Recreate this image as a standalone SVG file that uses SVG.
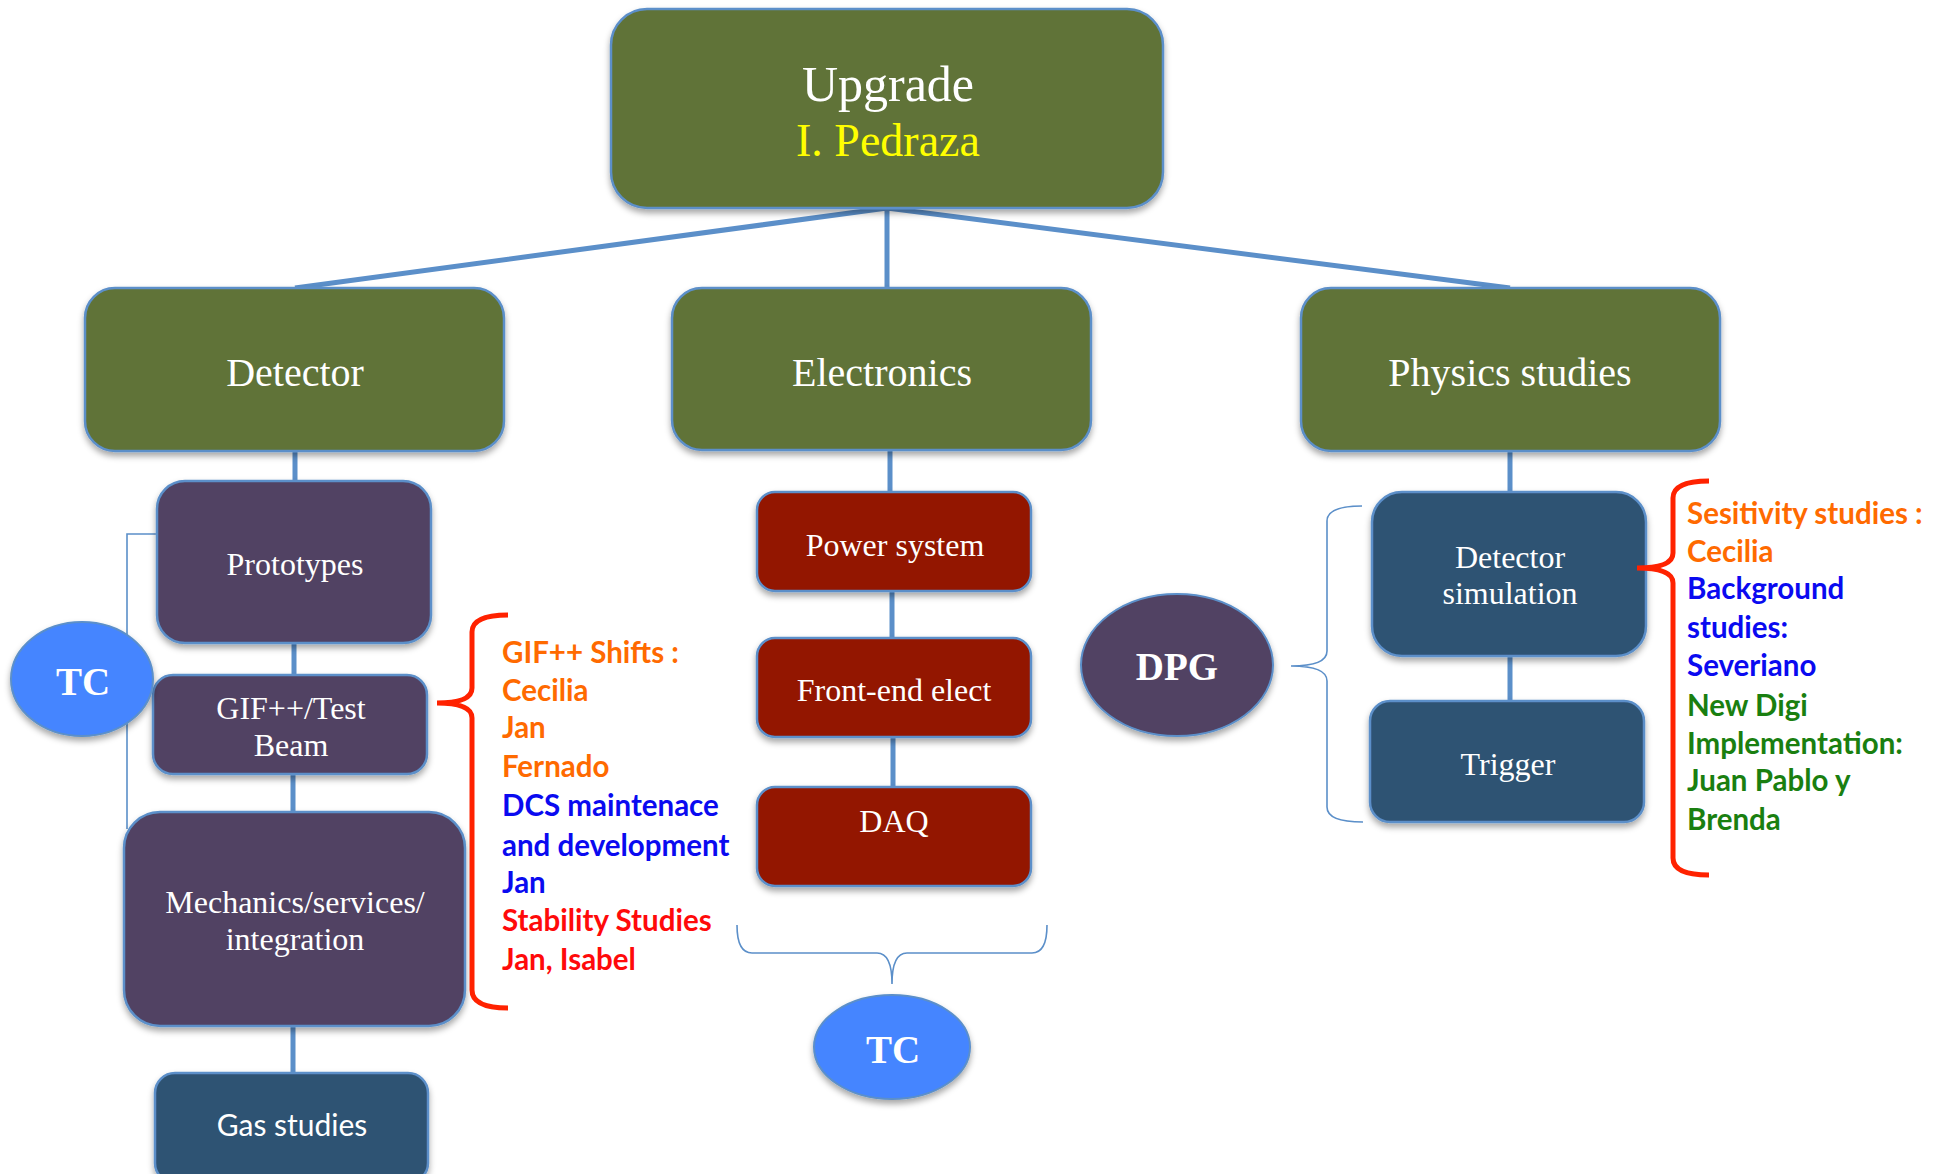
<svg xmlns="http://www.w3.org/2000/svg" width="1946" height="1174" viewBox="0 0 1946 1174">
  <defs>
    <filter id="shadow" x="-10%" y="-10%" width="120%" height="130%">
      <feDropShadow dx="0" dy="4" stdDeviation="3" flood-color="#000" flood-opacity="0.35"/>
    </filter>
    <style>
      .box { stroke: #5B8FC9; stroke-width: 2.5; filter: url(#shadow); }
      .olive { fill: #617337; }
      .purple { fill: #514263; }
      .red { fill: #931200; }
      .navy { fill: #2F5273; }
      .oval { fill: #4485FF; stroke: #5B8FC9; stroke-width: 2; filter: url(#shadow); }
      .serif { font-family: "Liberation Serif", "Times New Roman", serif; fill: #FFFFFF; text-anchor: middle; }
      .sans { font-family: Lato, "Liberation Sans", sans-serif; }
      .big { font-size: 40px; }
      .mid { font-size: 32px; }
      .bold { font-weight: bold; font-size: 39px; }
      .conn { stroke: #5B8FC9; stroke-width: 5; fill: none; }
      .thin { stroke: #5B8FC9; stroke-width: 1.6; fill: none; }
      .brace { stroke: #FF2200; stroke-width: 5; fill: none; stroke-linecap: butt; }
      .note { font-family: Lato, "Liberation Sans", sans-serif; font-weight: bold; font-size: 29.5px; }
      .orange { fill: #FF6A00; }
      .blue { fill: #0A0AF0; }
      .crimson { fill: #FF0A0A; }
      .green { fill: #1A7F10; }
    </style>
  </defs>

  <rect width="1946" height="1174" fill="#FFFFFF"/>

  <!-- connectors -->
  <g id="connectors">
    <path class="conn" d="M887,208 L295,288 M887,208 L887,288 M887,208 L1510,288"/>
    <path class="conn" d="M295,451 V481 M294,643 V675 M293,774 V812 M293,1026 V1073"/>
    <path class="conn" d="M890,450 V492 M892,591 V638 M893,737 V787"/>
    <path class="conn" d="M1510,451 V492 M1510,656 V701"/>
    <!-- TC link on the detector side -->
    <path class="thin" d="M97,686 H127 M157,534 H127 V829"/>
    <!-- brace under the electronics column -->
    <path class="thin" d="M737,925 Q737,953 752,953 H877 Q892,953 892,984 Q892,953 907,953 H1032 Q1047,953 1047,925"/>
    <!-- brace joining DPG to the simulation boxes -->
    <path class="thin" d="M1362,506 Q1327,506 1327,521 V651 Q1327,666 1291,666 Q1327,666 1327,681 V807 Q1327,822 1363,822"/>
  </g>

  <!-- top node -->
  <g id="upgrade">
    <rect class="box olive" x="611" y="9" width="552" height="199" rx="36"/>
    <text class="serif" x="888" y="101" font-size="50">Upgrade</text>
    <text class="serif" x="888" y="156" font-size="46" style="fill:#FFFF00">I. Pedraza</text>
  </g>

  <!-- detector column -->
  <g id="detector">
    <rect class="box olive" x="85" y="288" width="419" height="163" rx="30"/>
    <text class="serif big" x="295" y="386">Detector</text>
  </g>
  <g id="prototypes">
    <rect class="box purple" x="157" y="481" width="274" height="162" rx="28"/>
    <text class="serif mid" x="295" y="575">Prototypes</text>
  </g>
  <g id="gif">
    <rect class="box purple" x="153" y="675" width="274" height="99" rx="20"/>
    <text class="serif mid" x="291" y="719">GIF++/Test</text>
    <text class="serif mid" x="291" y="756">Beam</text>
  </g>
  <g id="mechanics">
    <rect class="box purple" x="124" y="812" width="341" height="214" rx="36"/>
    <text class="serif mid" x="295" y="913">Mechanics/services/</text>
    <text class="serif mid" x="295" y="950">integration</text>
  </g>
  <g id="gas">
    <rect class="box navy" x="155" y="1073" width="273" height="110" rx="20"/>
    <text class="sans" x="292" y="1136" font-size="30" fill="#FFFFFF" text-anchor="middle">Gas studies</text>
  </g>
  <g id="tc-detector">
    <ellipse class="oval" cx="82" cy="679" rx="71" ry="57"/>
    <text class="serif bold" x="83" y="695">TC</text>
  </g>
  <g id="detector-people">
    <path class="brace" d="M508,615 Q472,615 472,632 V688 Q472,703 437,703 Q472,703 472,718 V990 Q472,1008 508,1008"/>
    <text class="note orange" x="502" y="663">GIF++ Shifts :</text>
    <text class="note orange" x="502" y="701">Cecilia</text>
    <text class="note orange" x="502" y="738">Jan</text>
    <text class="note orange" x="502" y="777">Fernado</text>
    <text class="note blue" x="502" y="816">DCS maintenace</text>
    <text class="note blue" x="502" y="856">and development</text>
    <text class="note blue" x="502" y="893">Jan</text>
    <text class="note crimson" x="502" y="931">Stability Studies</text>
    <text class="note crimson" x="502" y="970">Jan, Isabel</text>
  </g>

  <!-- electronics column -->
  <g id="electronics">
    <rect class="box olive" x="672" y="288" width="419" height="162" rx="30"/>
    <text class="serif big" x="882" y="386">Electronics</text>
  </g>
  <g id="power">
    <rect class="box red" x="757" y="492" width="274" height="99" rx="18"/>
    <text class="serif mid" x="895" y="556">Power system</text>
  </g>
  <g id="frontend">
    <rect class="box red" x="757" y="638" width="274" height="99" rx="18"/>
    <text class="serif mid" x="894" y="701">Front-end elect</text>
  </g>
  <g id="daq">
    <rect class="box red" x="757" y="787" width="274" height="99" rx="18"/>
    <text class="serif mid" x="894" y="832">DAQ</text>
  </g>
  <g id="tc-electronics">
    <ellipse class="oval" cx="892" cy="1047" rx="78" ry="52"/>
    <text class="serif bold" x="893" y="1063">TC</text>
  </g>

  <!-- physics column -->
  <g id="physics">
    <rect class="box olive" x="1301" y="288" width="419" height="163" rx="30"/>
    <text class="serif big" x="1510" y="386">Physics studies</text>
  </g>
  <g id="simulation">
    <rect class="box navy" x="1372" y="492" width="274" height="164" rx="30"/>
    <text class="serif mid" x="1510" y="568">Detector</text>
    <text class="serif mid" x="1510" y="604">simulation</text>
  </g>
  <g id="trigger">
    <rect class="box navy" x="1370" y="701" width="274" height="121" rx="20"/>
    <text class="serif mid" x="1508" y="775">Trigger</text>
  </g>
  <g id="dpg">
    <ellipse class="oval" cx="1177" cy="665" rx="96" ry="71" style="fill:#514263"/>
    <text class="serif bold" x="1177" y="680" font-size="40">DPG</text>
  </g>
  <g id="physics-people">
    <path class="brace" d="M1709,481 Q1673,481 1673,498 V553 Q1673,568 1637,568 Q1673,568 1673,583 V858 Q1673,875 1709,875"/>
    <text class="note orange" x="1687" y="524">Sesitivity studies :</text>
    <text class="note orange" x="1687" y="562">Cecilia</text>
    <text class="note blue" x="1687" y="599">Background</text>
    <text class="note blue" x="1687" y="638">studies:</text>
    <text class="note blue" x="1687" y="676">Severiano</text>
    <text class="note green" x="1687" y="716">New Digi</text>
    <text class="note green" x="1687" y="754">Implementation:</text>
    <text class="note green" x="1687" y="791">Juan Pablo y</text>
    <text class="note green" x="1687" y="830">Brenda</text>
  </g>
</svg>
